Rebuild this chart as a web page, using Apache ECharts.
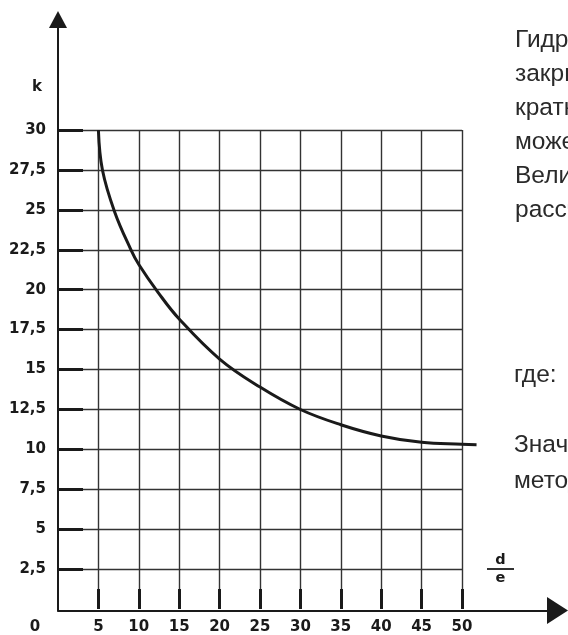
<!DOCTYPE html>
<html><head><meta charset="utf-8">
<script src="https://cdn.jsdelivr.net/npm/echarts@6/dist/echarts.min.js"></script>
<style>html,body{margin:0;padding:0;background:#fff}#c{width:568px;height:635px}</style>
</head><body><div id="c"></div>
<script>
const xTicks = [0, 5, 10, 15, 20, 25, 30, 35, 40, 45, 50];
const yTicks = [2.5, 5, 7.5, 10, 12.5, 15, 17.5, 20, 22.5, 25, 27.5, 30];
const curveX = [5, 5.5, 7, 9, 10, 12.4, 15, 20, 25, 30, 35, 40, 45, 50, 51.8];
const curveK = [30, 27.5, 24.9, 22.55, 21.6, 19.85, 18.2, 15.7, 13.95, 12.55, 11.6, 10.9, 10.5, 10.38, 10.35];
const textTop = ['Гидравлическое', 'закрытых', 'кратность', 'может', 'Величина', 'рассчитывается'];
const textBottom = ['где:', 'Значение', 'метод'];

const ink = '#1a1a1a';
const gridInk = '#333';
const lblFont = 'DejaVu Sans';
const bodyFont = 'Liberation Sans';

// plot area geometry (grid 0 holds the ruled field, grid 1 spans the arrowed axes)
const W = 568, H = 635;
const g0 = {left: 58, top: 130, width: 404, bottom: 24.5};
const g1 = {left: 58, top: 19.5, right: 10.5, bottom: 24.5};
const xMax0 = 50, yMax0 = 30;
const pxX = g0.width / xMax0;
const pxY = (H - g0.top - g0.bottom) / yMax0;
const xMax1 = (W - g1.left - g1.right) / pxX;
const yMax1 = (H - g1.top - g1.bottom) / pxY;

const chart = echarts.init(document.getElementById('c'), null, {renderer: 'canvas'});

const graphics = [];
textTop.forEach((t, i) => graphics.push({
  type: 'text', x: 515, y: 40 + i * 34,
  style: {text: t, fontSize: 24.5, fontFamily: bodyFont, fill: '#2a2a2a', verticalAlign: 'middle', align: 'left'}
}));
const bottomY = [375, 445, 481];
textBottom.forEach((t, i) => graphics.push({
  type: 'text', x: 514, y: bottomY[i],
  style: {text: t, fontSize: 24.5, fontFamily: bodyFont, fill: '#2a2a2a', verticalAlign: 'middle', align: 'left'}
}));

const option = {
  animation: false,
  backgroundColor: '#fff',
  grid: [
    Object.assign({containLabel: false}, g0),
    Object.assign({containLabel: false}, g1)
  ],
  xAxis: [{
    type: 'value', gridIndex: 0, min: 0, max: xMax0, interval: 5,
    axisLine: {show: false},
    axisTick: {show: true, inside: true, length: 20, customValues: xTicks.filter(v => v > 0),
      lineStyle: {color: ink, width: 3}},
    axisLabel: {
      customValues: xTicks, margin: 11, fontSize: 15, fontWeight: 'bold', fontFamily: lblFont, color: ink,
      formatter: v => v === 0 ? '{z|0}' : String(v),
      rich: {z: {padding: [0, 46, 0, 0], fontSize: 15, fontWeight: 'bold', fontFamily: lblFont, color: ink}}
    },
    splitLine: {show: true, lineStyle: {color: gridInk, width: 1.4}},
    name: '{t|d}\n{l|}\n{t|e}', nameLocation: 'end', nameGap: 25,
    nameTextStyle: {
      padding: [0, 0, 80, 0],
      rich: {
        t: {fontSize: 14.5, fontWeight: 'bold', fontFamily: lblFont, color: ink, lineHeight: 14, width: 27, align: 'center'},
        l: {width: 27, height: 2, lineHeight: 4, backgroundColor: '#333'}
      }
    }
  }, {
    type: 'value', gridIndex: 1, min: 0, max: xMax1,
    axisLine: {show: true, symbol: ['none', 'triangle'], symbolSize: [27, 21], lineStyle: {color: ink, width: 2}},
    axisTick: {show: false}, axisLabel: {show: false}, splitLine: {show: false}
  }],
  yAxis: [{
    type: 'value', gridIndex: 0, min: 0, max: yMax0, interval: 2.5,
    axisLine: {show: false},
    axisTick: {show: true, inside: true, length: 25, customValues: yTicks, lineStyle: {color: ink, width: 3}},
    axisLabel: {
      customValues: yTicks, margin: 12, fontSize: 15, fontWeight: 'bold', fontFamily: lblFont, color: ink,
      formatter: v => String(v).replace('.', ',')
    },
    splitLine: {show: true, lineStyle: {color: gridInk, width: 1.4}},
    name: 'k', nameLocation: 'end', nameGap: 43,
    nameTextStyle: {fontSize: 15, fontWeight: 'bold', fontFamily: lblFont, color: ink,
      align: 'center', verticalAlign: 'middle', padding: [0, 42, 0, 0]}
  }, {
    type: 'value', gridIndex: 1, min: 0, max: yMax1,
    axisLine: {show: true, symbol: ['none', 'triangle'], symbolSize: [18, 17], lineStyle: {color: ink, width: 2}},
    axisTick: {show: false}, axisLabel: {show: false}, splitLine: {show: false}
  }],
  series: [{
    type: 'line', xAxisIndex: 1, yAxisIndex: 1,
    data: curveX.map((x, i) => [x, curveK[i]]),
    smooth: 0.4, showSymbol: false, clip: false,
    lineStyle: {color: ink, width: 3}
  }],
  graphic: graphics
};
chart.setOption(option);
</script></body></html>
